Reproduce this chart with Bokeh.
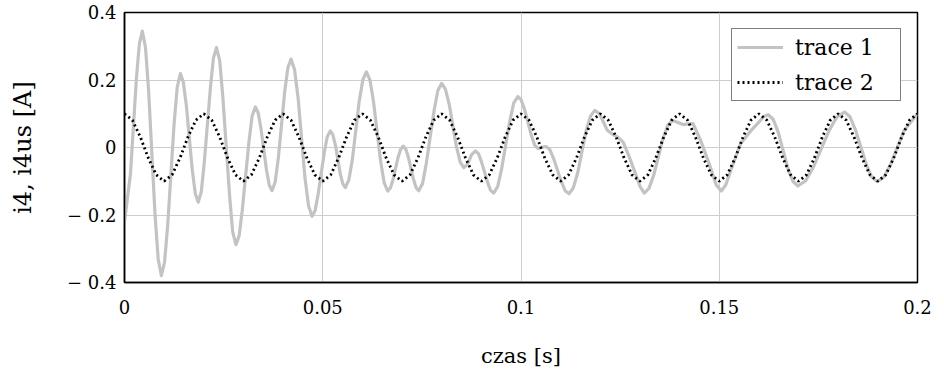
from bokeh.plotting import figure
from bokeh.models import Range1d, FixedTicker, Legend, LegendItem
from bokeh.embed import file_html
from bokeh.resources import INLINE

# ---- data ----
t1 = [0.0000, 0.0015, 0.0030, 0.00375, 0.0045, 0.0053, 0.0061, 0.0077, 0.0085, 0.0093,
      0.0101, 0.0109, 0.0125, 0.0133, 0.0141, 0.01485, 0.0156, 0.0171, 0.01785, 0.0186,
      0.01937, 0.0201, 0.0217, 0.02243, 0.0232, 0.02402, 0.0248, 0.0265, 0.02728, 0.0281,
      0.02892, 0.0297, 0.0314, 0.03218, 0.0330, 0.0337, 0.0344, 0.0358, 0.0365, 0.0372,
      0.0380, 0.0388, 0.0404, 0.0412, 0.0420, 0.04288, 0.0438, 0.0455, 0.04642, 0.0473,
      0.04807, 0.0488, 0.0504, 0.05113, 0.0519, 0.05253, 0.0532, 0.0544, 0.05507, 0.0557,
      0.05658, 0.0575, 0.0592, 0.06012, 0.0610, 0.0619, 0.0628, 0.0646, 0.0655, 0.0664,
      0.06705, 0.0677, 0.0690, 0.06965, 0.0703, 0.07095, 0.0716, 0.0729, 0.07355, 0.0742,
      0.07517, 0.0761, 0.0781, 0.07903, 0.0800, 0.08093, 0.0819, 0.0837, 0.08467, 0.0856,
      0.0866, 0.0875, 0.0885, 0.08927, 0.0900, 0.0916, 0.09233, 0.0931, 0.09412, 0.0951,
      0.0972, 0.09818, 0.0992, 0.10005, 0.1009, 0.1026, 0.10345, 0.1043, 0.1053, 0.1063,
      0.10727, 0.1082, 0.1102, 0.11113, 0.1121, 0.11318, 0.1143, 0.1164, 0.11752, 0.1186,
      0.1198, 0.1208, 0.1217, 0.1230, 0.1245, 0.1258, 0.1272, 0.1288, 0.1300, 0.1311,
      0.13228, 0.1335, 0.1358, 0.13702, 0.1382, 0.1396, 0.1409, 0.1422, 0.1434, 0.1453,
      0.1474, 0.1492, 0.1505, 0.1516, 0.1530, 0.1554, 0.1580, 0.1600, 0.1612, 0.1624,
      0.16363, 0.1649, 0.1673, 0.16857, 0.1698, 0.17177, 0.1737, 0.1777, 0.17963, 0.1816,
      0.18297, 0.1843, 0.1871, 0.18843, 0.1898, 0.1915, 0.1932, 0.1966, 0.2000]
i4 = [-0.220, -0.079, 0.204, 0.307, 0.345, 0.296, 0.164, -0.199, -0.331, -0.380,
      -0.340, -0.230, 0.069, 0.179, 0.219, 0.193, 0.124, -0.067, -0.136, -0.162,
      -0.131, -0.047, 0.182, 0.265, 0.296, 0.257, 0.150, -0.142, -0.249, -0.288,
      -0.261, -0.186, 0.018, 0.093, 0.120, 0.103, 0.058, -0.066, -0.111, -0.128,
      -0.102, -0.031, 0.165, 0.236, 0.262, 0.231, 0.145, -0.088, -0.173, -0.204,
      -0.187, -0.141, -0.014, 0.032, 0.049, 0.038, 0.007, -0.077, -0.108, -0.119,
      -0.096, -0.033, 0.138, 0.201, 0.224, 0.200, 0.136, -0.041, -0.105, -0.129,
      -0.120, -0.096, -0.029, -0.005, 0.004, -0.005, -0.029, -0.095, -0.119, -0.128,
      -0.107, -0.048, 0.111, 0.169, 0.190, 0.173, 0.128, 0.003, -0.043, -0.060,
      -0.048, -0.022, -0.010, -0.018, -0.041, -0.104, -0.127, -0.135, -0.116, -0.064,
      0.080, 0.132, 0.151, 0.141, 0.113, 0.036, 0.007, -0.003, 0.001, 0.003,
      -0.006, -0.032, -0.102, -0.128, -0.137, -0.120, -0.075, 0.048, 0.093, 0.110,
      0.100, 0.075, 0.052, 0.040, 0.030, 0.015, -0.025, -0.075, -0.115, -0.135,
      -0.121, -0.081, 0.026, 0.066, 0.080, 0.074, 0.068, 0.070, 0.071, 0.021,
      -0.046, -0.110, -0.129, -0.112, -0.065, 0.012, 0.050, 0.075, 0.092, 0.097,
      0.083, 0.044, -0.061, -0.100, -0.114, -0.099, -0.059, 0.050, 0.090, 0.105,
      0.091, 0.054, -0.050, -0.087, -0.101, -0.088, -0.051, 0.050, 0.100]

t2 = [0.000, 0.002, 0.004, 0.006, 0.008, 0.010, 0.012, 0.014, 0.016, 0.018,
      0.020, 0.022, 0.024, 0.026, 0.028, 0.030, 0.032, 0.034, 0.036, 0.038,
      0.040, 0.042, 0.044, 0.046, 0.048, 0.050, 0.052, 0.054, 0.056, 0.058,
      0.060, 0.062, 0.064, 0.066, 0.068, 0.070, 0.072, 0.074, 0.076, 0.078,
      0.080, 0.082, 0.084, 0.086, 0.088, 0.090, 0.092, 0.094, 0.096, 0.098,
      0.100, 0.102, 0.104, 0.106, 0.108, 0.110, 0.112, 0.114, 0.116, 0.118,
      0.120, 0.122, 0.124, 0.126, 0.128, 0.130, 0.132, 0.134, 0.136, 0.138,
      0.140, 0.142, 0.144, 0.146, 0.148, 0.150, 0.152, 0.154, 0.156, 0.158,
      0.160, 0.162, 0.164, 0.166, 0.168, 0.170, 0.172, 0.174, 0.176, 0.178,
      0.180, 0.182, 0.184, 0.186, 0.188, 0.190, 0.192, 0.194, 0.196, 0.198,
      0.200]
i4us = [0.100, 0.081, 0.031, -0.031, -0.081, -0.100, -0.081, -0.031, 0.031, 0.081,
        0.100, 0.081, 0.031, -0.031, -0.081, -0.100, -0.081, -0.031, 0.031, 0.081,
        0.100, 0.081, 0.031, -0.031, -0.081, -0.100, -0.081, -0.031, 0.031, 0.081,
        0.100, 0.081, 0.031, -0.031, -0.081, -0.100, -0.081, -0.031, 0.031, 0.081,
        0.100, 0.081, 0.031, -0.031, -0.081, -0.100, -0.081, -0.031, 0.031, 0.081,
        0.100, 0.081, 0.031, -0.031, -0.081, -0.100, -0.081, -0.031, 0.031, 0.081,
        0.100, 0.081, 0.031, -0.031, -0.081, -0.100, -0.081, -0.031, 0.031, 0.081,
        0.100, 0.081, 0.031, -0.031, -0.081, -0.100, -0.081, -0.031, 0.031, 0.081,
        0.100, 0.081, 0.031, -0.031, -0.081, -0.100, -0.081, -0.031, 0.031, 0.081,
        0.100, 0.081, 0.031, -0.031, -0.081, -0.100, -0.081, -0.031, 0.031, 0.081,
        0.100]

x_ticks = [0, 0.05, 0.1, 0.15, 0.2]
x_tick_labels = ["0", "0.05", "0.1", "0.15", "0.2"]
y_ticks = [-0.4, -0.2, 0, 0.2, 0.4]
y_tick_labels = ["\u2212 0.4", "\u2212 0.2", "0", "0.2", "0.4"]
series_names = ["trace 1", "trace 2"]

FONT = "DejaVu Serif"

p = figure(width=936, height=370, output_backend="svg", toolbar_location=None,
           x_range=Range1d(0, 0.2), y_range=Range1d(-0.4, 0.4),
           min_border_left=124, min_border_right=19, min_border_top=12,
           min_border_bottom=87, background_fill_color="white",
           border_fill_color="white")
p.outline_line_color = "black"
p.outline_line_width = 1.5
p.outline_line_alpha = 1.0

r1 = p.line(t1, i4, line_color="#c3c3c3", line_width=3.2, line_join="round")
r2 = p.line(t2, i4us, line_color="black", line_width=2.8, line_dash="2 3")

p.xaxis.ticker = FixedTicker(ticks=x_ticks)
p.yaxis.ticker = FixedTicker(ticks=y_ticks)
p.xaxis.major_label_overrides = dict(zip(x_ticks, x_tick_labels))
p.yaxis.major_label_overrides = dict(zip(y_ticks, y_tick_labels))

for ax in (p.xaxis[0], p.yaxis[0]):
    ax.major_tick_line_color = None
    ax.minor_tick_line_color = None
    ax.axis_line_color = "black"
    ax.axis_line_width = 1.5
    ax.major_label_text_font = FONT
    ax.major_label_text_font_size = "18px"
    ax.major_label_text_color = "black"
    ax.axis_label_text_font = FONT
    ax.axis_label_text_font_style = "normal"
    ax.axis_label_text_color = "black"

p.xaxis.axis_label = "czas [s]"
p.yaxis.axis_label = "i4, i4us [A]"
p.xaxis.axis_label_text_font_size = "21px"
p.yaxis.axis_label_text_font_size = "24px"
p.xaxis.major_label_standoff = 11
p.xaxis.axis_label_standoff = 27
p.yaxis.major_label_standoff = 2
p.yaxis.axis_label_standoff = 27

p.xgrid.grid_line_color = "#cdcdcd"
p.ygrid.grid_line_color = "#cdcdcd"
p.xgrid.grid_line_width = 1
p.ygrid.grid_line_width = 1

legend = Legend(items=[LegendItem(label=series_names[0], renderers=[r1]),
                       LegendItem(label=series_names[1], renderers=[r2])],
                location="top_right")
legend.margin = 16
legend.padding = 5
legend.spacing = 9
legend.glyph_width = 46
legend.glyph_height = 26
legend.label_width = 100
legend.label_height = 26
legend.label_standoff = 12
legend.label_text_font = FONT
legend.label_text_font_size = "22px"
legend.label_text_color = "black"
legend.border_line_color = "black"
legend.border_line_width = 1.2
legend.background_fill_color = "white"
legend.background_fill_alpha = 1.0
p.add_layout(legend)

open("out.html", "w").write(file_html(p, INLINE))
